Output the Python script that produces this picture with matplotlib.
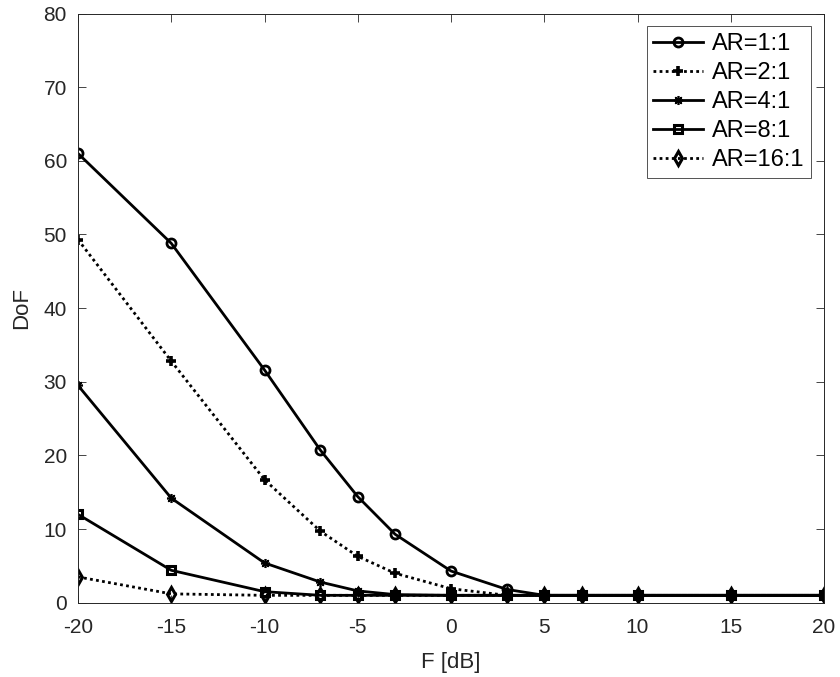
import matplotlib
matplotlib.use("Agg")
import matplotlib.pyplot as plt

plt.rcParams['font.family'] = ['Liberation Sans', 'DejaVu Sans']
plt.rcParams['axes.unicode_minus'] = False

F_dB = [-20, -15, -10, -7, -5, -3, 0, 3, 5, 7, 10, 15, 20]
dof_ar1 = [61.0, 48.8, 31.6, 20.7, 14.4, 9.3, 4.3, 1.8, 1.0, 1.0, 1.0, 1.0, 1.0]
dof_ar2 = [49.3, 32.8, 16.7, 9.7, 6.3, 4.0, 1.9, 1.0, 1.0, 1.0, 1.0, 1.0, 1.0]
dof_ar4 = [29.5, 14.2, 5.4, 2.8, 1.6, 1.1, 1.0, 1.0, 1.0, 1.0, 1.0, 1.0, 1.0]
dof_ar8 = [12.0, 4.4, 1.5, 1.0, 1.0, 1.0, 1.0, 1.0, 1.0, 1.0, 1.0, 1.0, 1.0]
dof_ar16 = [3.5, 1.2, 1.0, 1.0, 1.0, 1.0, 1.0, 1.0, 1.0, 1.0, 1.0, 1.0, 1.0]
labels = ['AR=1:1', 'AR=2:1', 'AR=4:1', 'AR=8:1', 'AR=16:1']

fig = plt.figure(figsize=(8.4, 6.77), dpi=100)
ax = fig.add_axes([78/840, 1-602.7/677, (824-78)/840, (602.7-13.5)/677])

lw = 2.0
dot = (0, (1, 1.2))
ax.plot(F_dB, dof_ar1, '-', color='k', lw=lw, marker='o', ms=6.5, mfc='none', mew=2.0, label=labels[0])
ax.plot(F_dB, dof_ar2, linestyle=dot, color='k', lw=lw, marker='+', ms=7.5, mew=2.6, label=labels[1])
ax.plot(F_dB, dof_ar4, '-', color='k', lw=lw, marker=(8, 2, 0), ms=6.5, mew=1.2, label=labels[2])
ax.plot(F_dB, dof_ar8, '-', color='k', lw=lw, marker='s', ms=6, mfc='none', mew=2.2, label=labels[3])
ax.plot(F_dB, dof_ar16, linestyle=dot, color='k', lw=lw, marker='d', ms=7.5, mfc='none', mew=2.2, label=labels[4])

ax.set_xlim(-20, 20)
ax.set_ylim(0, 80)
ax.set_xticks([-20, -15, -10, -5, 0, 5, 10, 15, 20])
ax.set_yticks([0, 10, 20, 30, 40, 50, 60, 70, 80])
ax.tick_params(direction='in', top=True, right=True, labelsize=15, colors='#262626', length=6, width=0.6)
ax.tick_params(axis='x', pad=11)
ax.tick_params(axis='y', pad=8)
for s in ax.spines.values():
    s.set_color('#262626')
    s.set_linewidth(0.7)
ax.set_xlabel('F [dB]', fontsize=16, color='#262626', labelpad=11)
ax.set_ylabel('DoF', fontsize=16, color='#262626', labelpad=8)

leg = ax.legend(loc='upper right', fontsize=17, frameon=True, fancybox=False, edgecolor='#262626',
                handlelength=2.1, borderpad=0.28, labelspacing=0.3, handletextpad=0.38,
                borderaxespad=0.55)
leg.get_frame().set_linewidth(0.7)

fig.savefig('out.png', dpi=100)
